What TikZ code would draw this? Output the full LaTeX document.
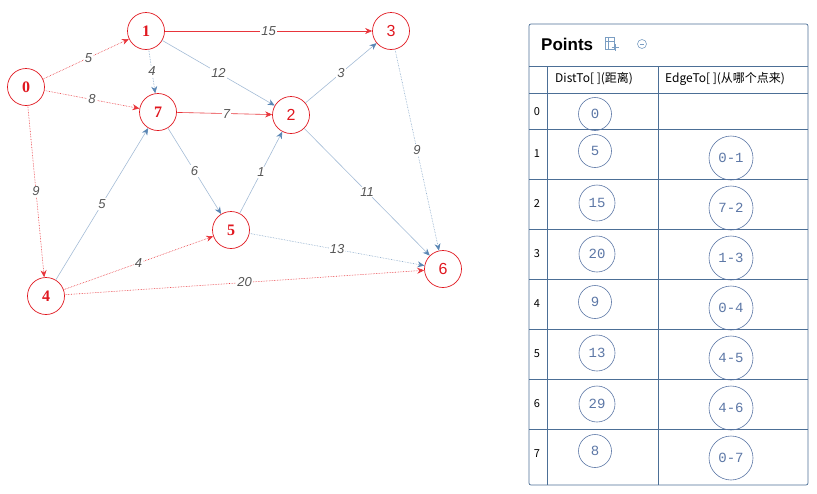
\documentclass[tikz,border=0pt]{standalone}
\usepackage{fontspec}
\setmainfont{Liberation Serif}
\newfontfamily\cjkfont{Noto Sans CJK SC}
\newfontfamily\lblfont{Liberation Sans}
\newfontfamily\monofont{Liberation Mono}
\usetikzlibrary{arrows.meta}
\definecolor{nodered}{HTML}{E0171F}
\definecolor{edgered}{HTML}{E8353B}
\definecolor{edgeblue}{HTML}{5A86B4}
\definecolor{lblgray}{HTML}{555555}
\definecolor{tblline}{HTML}{4C6F96}
\definecolor{circblue}{HTML}{5C77A6}
\tikzset{
  vtx/.style={circle, draw=nodered, line width=0.7pt, minimum size=37pt, inner sep=0pt,
    text=nodered, font=\fontsize{16}{16}\selectfont\bfseries},
  vtxs/.style={vtx, font=\lblfont\fontsize{16}{16}\selectfont},
  redge/.style={draw=edgered, line width=0.6pt, -{Stealth[length=7pt,width=6pt]}},
  rdot/.style={redge, densely dotted},
  bedge/.style={draw=edgeblue!55, line width=0.6pt, -{Stealth[length=7pt,width=6pt,fill=edgeblue,color=edgeblue]}},
  bdot/.style={bedge, draw=edgeblue!75, densely dotted},
  elbl/.style={fill=white, inner sep=1pt, text=lblgray, font=\lblfont\itshape\fontsize{13}{13}\selectfont},
  grid/.style={draw=tblline, line width=0.7pt},
  dcirc/.style={circle, draw=circblue, line width=0.6pt, minimum size=33pt, inner sep=0pt,
    text=circblue, font=\monofont\fontsize{14}{14}\selectfont},
  ecirc/.style={dcirc, minimum size=44pt},
  rowlbl/.style={font=\cjkfont\fontsize{11}{11}\selectfont, text=black, inner sep=0pt},
  hdr/.style={font=\cjkfont\fontsize{12}{12}\selectfont, text=black, inner sep=0pt}
}
\begin{document}
\begin{tikzpicture}[x=1pt,y=-1pt]
\useasboundingbox (0,0) rectangle (817,493);
% vertices
\node[vtx]  (n0) at (26,87) {0};
\node[vtx]  (n1) at (146,31) {1};
\node[vtx]  (n7) at (158,112) {7};
\node[vtxs] (n2) at (291,115) {2};
\node[vtxs] (n3) at (391,31) {3};
\node[vtx]  (n5) at (231,230) {5};
\node[vtx]  (n4) at (46,296) {4};
\node[vtxs] (n6) at (443,269) {6};
% edges
\draw[rdot]  (n0) -- node[elbl,pos=0.53]{5} (n1);
\draw[rdot]  (n0) -- node[elbl]{8} (n7);
\draw[rdot]  (n0) -- node[elbl]{9} (n4);
\draw[redge] (n1) -- node[elbl]{15} (n3);
\draw[bdot]  (n1) -- node[elbl]{4} (n7);
\draw[bedge] (n1) -- node[elbl]{12} (n2);
\draw[redge] (n7) -- node[elbl,pos=0.52]{7} (n2);
\draw[bedge] (n7) -- node[elbl]{6} (n5);
\draw[bedge] (n4) -- node[elbl]{5} (n7);
\draw[bedge] (n5) -- node[elbl]{1} (n2);
\draw[bedge] (n2) -- node[elbl]{3} (n3);
\draw[bdot]  (n3) -- node[elbl]{9} (n6);
\draw[bedge] (n2) -- node[elbl]{11} (n6);
\draw[bdot]  (n5) -- node[elbl]{13} (n6);
\draw[rdot]  (n4) -- node[elbl]{4} (n5);
\draw[rdot]  (n4) -- node[elbl]{20} (n6);
% table frame
\draw[grid, rounded corners=2pt] (529,24) rectangle (808,485);
\draw[grid] (529,66) -- (808,66);
\draw[grid] (529,93) -- (808,93);
\foreach \yy in {129,179,229,279,329,379,429} {\draw[grid] (529,\yy) -- (808,\yy);}
\draw[grid] (547,66) -- (547,485);
\draw[grid] (658,66) -- (658,485);
% title
\node[anchor=west, inner sep=0pt, font=\lblfont\bfseries\fontsize{17}{17}\selectfont] (title) at (541,44) {Points};
% icon 1 (table with plus)
\begin{scope}[draw=edgeblue!80, line width=0.6pt]
\draw (605,37) rectangle (614,49);
\draw (605,41) -- (614,41);
\draw (608,37) -- (608,49);
\draw[line width=0.9pt] (615,44) -- (615,51) (611.5,47.5) -- (618.5,47.5);
\end{scope}
\node[circle, draw=edgeblue!80, line width=0.6pt, minimum size=9pt, inner sep=0pt] (icon2) at (642,44) {};
\draw[edgeblue!80, line width=0.7pt] ([xshift=-2.2pt]icon2.center) -- ([xshift=2.2pt]icon2.center);
% header
\node[hdr, anchor=west] (h1) at (555,79) {DistTo[ ](距离)};
\node[hdr, anchor=west] (h2) at (665,79) {EdgeTo[ ](从哪个点来)};
% rows
\foreach \i/\yy in {0/112,1/154,2/204,3/254,4/304,5/354,6/404,7/454} {\node[rowlbl] (r\i) at (537,\yy) {\i};}
\node[dcirc] (d0) at (595,114) {0};
\node[dcirc] (d1) at (595,151) {5};
\node[dcirc, minimum size=36pt] (d2) at (597,203) {15};
\node[dcirc, minimum size=36pt] (d3) at (597,254) {20};
\node[dcirc] (d4) at (595,302) {9};
\node[dcirc, minimum size=36pt] (d5) at (597,353) {13};
\node[dcirc, minimum size=36pt] (d6) at (597,404) {29};
\node[dcirc] (d7) at (595,451) {8};
\node[ecirc] (e1) at (731,158) {0-1};
\node[ecirc] (e2) at (731,208) {7-2};
\node[ecirc] (e3) at (731,258) {1-3};
\node[ecirc] (e4) at (731,308) {0-4};
\node[ecirc] (e5) at (731,358) {4-5};
\node[ecirc] (e6) at (731,408) {4-6};
\node[ecirc] (e7) at (731,458) {0-7};
\end{tikzpicture}
\end{document}
